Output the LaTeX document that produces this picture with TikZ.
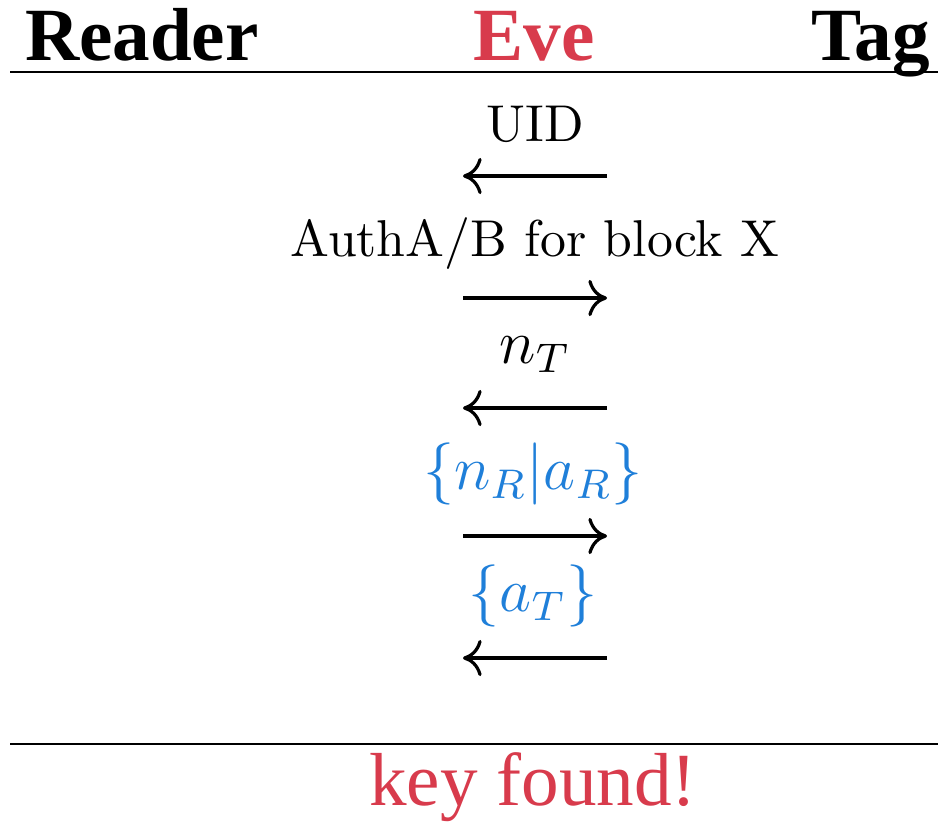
\documentclass[tikz,border=0pt]{standalone}
\usepackage{fontspec}
\setmainfont{Latin Modern Roman}
\newfontfamily\headfont{Liberation Serif}
\usetikzlibrary{arrows.meta}
\definecolor{evered}{HTML}{D83B4C}
\definecolor{msgblue}{HTML}{1F7FD9}
\tikzset{
  hdr/.style={inner sep=0pt, anchor=base, font=\headfont\fontsize{14.5}{16}\selectfont\bfseries},
  msg/.style={inner sep=0pt, anchor=base, font=\fontsize{10}{12}\selectfont},
  mmsg/.style={inner sep=0pt, anchor=base, font=\fontsize{12}{14}\selectfont},
  rule/.style={line width=0.55pt},
  msgarrow/.style={line width=0.62pt, -{Computer Modern Rightarrow[length=3.6pt,width=7pt]}}
}
\begin{document}
\begin{tikzpicture}[x=0.193pt,y=-0.193pt]
\useasboundingbox (0,0) rectangle (938,822);
% header
\node[hdr, anchor=base west] (reader) at (24,60) {Reader};
\node[hdr, text=evered] (eve) at (534,60) {Eve};
\node[hdr, anchor=base east] (tag) at (931,60) {Tag};
\coordinate (topL) at (10,72);
\coordinate (topR) at (938,72);
\draw[rule] (topL) -- (topR);
% messages
\node[msg] (m1) at (535,141) {UID};
\coordinate (a1l) at (463,176); \coordinate (a1r) at (607,176);
\draw[msgarrow] (a1r) -- (a1l);
\node[msg] (m2) at (535,256) {AuthA/B for block X};
\coordinate (a2l) at (463,298); \coordinate (a2r) at (607,298);
\draw[msgarrow] (a2l) -- (a2r);
\node[mmsg] (m3) at (535,363) {$n_T$};
\coordinate (a3l) at (463,408); \coordinate (a3r) at (607,408);
\draw[msgarrow] (a3r) -- (a3l);
\node[mmsg, text=msgblue] (m4) at (533,489) {$\{n_R|a_R\}$};
\coordinate (a4l) at (463,536); \coordinate (a4r) at (607,536);
\draw[msgarrow] (a4l) -- (a4r);
\node[mmsg, text=msgblue] (m5) at (533,611) {$\{a_T\}$};
\coordinate (a5l) at (463,658); \coordinate (a5r) at (607,658);
\draw[msgarrow] (a5r) -- (a5l);
% bottom
\coordinate (botL) at (10,744);
\coordinate (botR) at (938,744);
\draw[rule] (botL) -- (botR);
\node[inner sep=0pt, anchor=base, text=evered, font=\headfont\fontsize{14.5}{16}\selectfont] (found) at (533,805) {key found!};
\end{tikzpicture}
\end{document}
